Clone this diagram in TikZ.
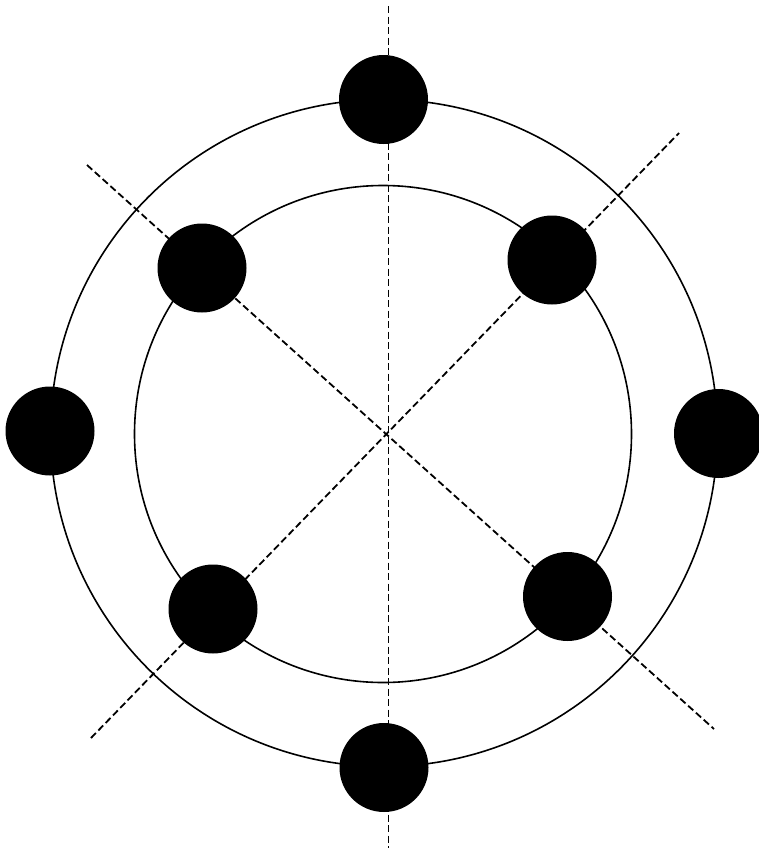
\documentclass[tikz,border=0pt]{standalone}
\begin{document}
\begin{tikzpicture}[x=1pt,y=-1pt,
  ring/.style={draw=black,line width=1.6pt},
  axis/.style={draw=black,line width=1.8pt,dash pattern=on 7pt off 3.5pt},
  dot/.style={circle,fill=black,draw=none,minimum size=89pt,inner sep=0pt}]
\useasboundingbox (0,0) rectangle (759,852);
\fill[white] (0,0) rectangle (759,852);
% rings
\draw[ring] (384,433) circle[radius=333.5];
\draw[ring] (383,434) circle[radius=248.5];
% axis end points
\coordinate (vt) at (388.5,6);
\coordinate (vb) at (388.5,848);
\coordinate (d1a) at (87,165);
\coordinate (d1b) at (714,729);
\coordinate (d2a) at (91,738);
\coordinate (d2b) at (679,133);
\draw[axis] (vt) -- (vb);
\draw[axis] (d1a) -- (d1b);
\draw[axis] (d2a) -- (d2b);
% dots
\node[dot] (top) at (383.5,99.5) {};
\node[dot] (bottom) at (384,767.5) {};
\node[dot] (left) at (50,431) {};
\node[dot] (right) at (718.5,433.5) {};
\node[dot] (ul) at (202,268) {};
\node[dot] (ur) at (552,260) {};
\node[dot] (ll) at (213,609) {};
\node[dot] (lr) at (567.5,596.5) {};
\end{tikzpicture}
\end{document}
